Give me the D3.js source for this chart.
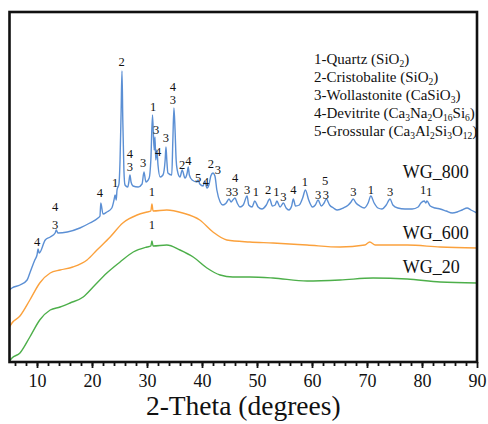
<!DOCTYPE html>
<html>
<head>
<meta charset="utf-8">
<script src="https://cdn.jsdelivr.net/npm/d3@7"></script>
<style>
  body { margin: 0; background: #fff; }
  text { font-family: "Liberation Serif", "Times New Roman", serif; fill: #111; }
</style>
</head>
<body>
<script>
// 2-theta (deg), intensity (a.u.)
const wg20 = [
  [5.0, 1], [5.45, 4], [6.9, 9], [8.7, 25], [10.5, 42], [12.4, 52], [14.2, 55], [16.0, 59],
  [18.4, 65], [20.2, 75], [22.7, 89], [25.1, 100], [27.5, 110], [30.0, 115], [30.7, 116],
  [30.9, 121], [31.1, 116], [33.6, 117], [36.0, 112], [38.4, 105], [40.9, 94], [43.3, 87],
  [45.6, 85], [48.7, 85], [52.9, 84], [59.1, 81], [65.1, 82], [71.1, 84], [77.3, 83],
  [83.3, 80], [90.0, 79]
];

const wg600 = [
  [5.0, 35], [5.45, 39], [6.9, 46], [8.7, 62], [10.5, 79], [12.4, 89], [14.2, 92], [16.5, 95],
  [19.1, 102], [20.9, 112], [23.3, 125], [25.6, 139], [28.2, 147], [30.0, 150], [30.7, 151],
  [30.9, 158], [31.1, 151], [33.6, 152], [36.5, 149], [39.6, 142], [42.0, 130], [44.5, 122],
  [48.7, 120], [52.9, 119], [59.1, 117], [65.1, 115], [69.6, 117], [70.5, 120], [71.5, 117],
  [77.3, 117], [83.3, 115], [90.0, 114]
];

const wg800 = [
  [5.0, 72], [5.45, 74], [6.9, 77], [8.2, 82], [8.7, 89], [9.6, 102], [10.0, 107], [10.2, 113],
  [10.4, 109], [11.5, 122], [12.4, 125], [13.3, 129], [13.5, 132], [13.8, 129], [15.5, 130],
  [17.8, 134], [19.6, 139], [21.1, 144], [21.45, 146], [21.6, 159], [22.0, 148], [22.7, 150],
  [23.6, 154], [24.0, 162], [24.2, 167], [24.4, 162], [24.55, 172], [24.9, 178], [25.1, 202],
  [25.3, 252], [25.45, 291], [25.6, 242], [25.8, 192], [26.0, 177], [26.5, 175], [26.7, 180],
  [26.9, 187], [27.1, 180], [27.45, 176], [28.4, 175], [29.1, 178], [29.45, 190], [29.8, 180],
  [30.4, 184], [30.7, 202], [31.0, 247], [31.3, 212], [31.45, 225], [31.6, 202], [31.8, 212],
  [32.0, 197], [32.4, 185], [32.9, 187], [33.3, 202], [33.45, 215], [33.6, 202], [33.8, 189],
  [34.5, 187], [34.7, 222], [34.9, 254], [35.1, 232], [35.3, 202], [35.5, 192], [36.0, 185],
  [36.4, 192], [36.9, 184], [37.3, 189], [37.5, 195], [37.7, 187], [38.2, 182], [39.1, 180],
  [39.3, 182], [39.6, 178], [40.2, 176], [40.5, 181], [40.9, 174], [41.3, 178], [41.6, 186],
  [42.0, 189], [42.35, 186], [42.7, 172], [43.3, 160], [43.8, 157], [44.4, 159], [44.9, 163],
  [45.3, 160], [45.6, 162], [46.0, 164], [46.4, 159], [46.9, 155], [47.5, 157], [48.2, 166],
  [48.5, 157], [49.1, 155], [49.6, 161], [50.2, 155], [50.9, 153], [51.7, 157], [52.3, 163],
  [52.8, 156], [53.3, 157], [53.6, 161], [54.2, 155], [54.8, 159], [55.3, 154], [55.8, 152],
  [56.3, 156], [56.6, 163], [57.0, 156], [57.7, 157], [58.3, 164], [58.8, 172], [59.4, 162],
  [60.1, 155], [60.6, 157], [61.1, 162], [61.7, 156], [62.2, 159], [62.6, 163], [63.2, 157],
  [63.9, 154], [64.6, 152], [65.7, 154], [66.6, 157], [67.1, 160], [67.5, 163], [68.0, 159],
  [68.7, 156], [69.5, 154], [70.2, 159], [70.7, 166], [71.3, 159], [72.0, 154], [72.7, 153],
  [73.5, 157], [74.2, 163], [74.7, 157], [75.6, 154], [76.9, 153], [78.2, 153], [79.3, 155],
  [79.8, 159], [80.4, 161], [80.7, 159], [80.9, 161], [81.5, 156], [82.4, 154], [83.3, 153],
  [84.4, 151], [85.5, 149], [86.4, 150], [87.3, 152], [88.2, 154], [88.9, 152], [90.0, 149]
];

// phase marks: 2-theta, label height (a.u.), phase number
const marks800 = [
  [10.0, 120, "4"], [13.3, 155, "4"], [13.3, 137, "3"], [21.45, 169, "4"], [24.2, 179, "1"],
  [25.4, 300, "2"], [26.9, 208, "4"], [26.9, 195, "3"], [29.3, 199, "3"], [31.1, 255, "1"],
  [31.65, 232, "3"], [32.0, 210, "4"], [33.45, 224, "3"], [34.7, 275, "4"], [34.7, 262, "3"],
  [36.4, 197, "2"], [37.5, 201, "4"], [39.3, 184, "5"], [40.7, 180, "4"], [41.6, 198, "2"],
  [42.9, 192, "3"], [44.9, 170, "3"], [46.0, 170, "3"], [46.0, 184, "4"], [48.2, 172, "3"],
  [49.8, 170, "1"], [52.0, 172, "2"], [53.5, 170, "1"], [54.8, 165, "3"], [56.6, 172, "4"],
  [58.7, 180, "1"], [61.1, 167, "3"], [62.5, 167, "3"], [62.4, 181, "5"], [67.5, 170, "3"],
  [70.7, 172, "1"], [74.2, 170, "3"], [80.2, 172, "1"], [81.3, 170, "1"]
];
const marks600 = [[30.9, 170, "1"]];
const marks20 = [[30.9, 137, "1"]];

const seriesNames = ["WG_800", "WG_600", "WG_20"];
const seriesColors = ["#5b8fd4", "#fba13c", "#4daf4a"];
const seriesLabelPos = [[76.5, 190], [76.5, 129], [76.5, 95]];

const xTicks = [10, 20, 30, 40, 50, 60, 70, 80, 90];
const xMinorTicks = d3.range(6, 90, 2);

const legendLines = [
  [["1-Quartz (SiO", 0], ["2", 1], [")", 0]],
  [["2-Cristobalite (SiO", 0], ["2", 1], [")", 0]],
  [["3-Wollastonite (CaSiO", 0], ["3", 1], [")", 0]],
  [["4-Devitrite (Ca", 0], ["3", 1], ["Na", 0], ["2", 1], ["O", 0], ["16", 1], ["Si", 0], ["6", 1], [")", 0]],
  [["5-Grossular (Ca", 0], ["3", 1], ["Al", 0], ["2", 1], ["Si", 0], ["3", 1], ["O", 0], ["12", 1], [")", 0]]
];

const width = 488, height = 424;
const svg = d3.select("body").append("svg")
    .attr("width", width)
    .attr("height", height);

const x = d3.scaleLinear().domain([5, 90]).range([9.5, 477]);
const y = d3.scaleLinear().domain([0, 350]).range([362, 12]);

const line = d3.line()
    .x(d => x(d[0]))
    .y(d => y(d[1]))
    .curve(d3.curveMonotoneX);

const allSeries = [wg800, wg600, wg20];
const allMarks = [marks800, marks600, marks20];

allSeries.forEach((s, i) => {
    svg.append("path")
        .datum(s)
        .attr("fill", "none")
        .attr("stroke", seriesColors[i])
        .attr("stroke-width", 1.4)
        .attr("stroke-linejoin", "round")
        .attr("d", line);
});

allMarks.forEach(m => {
    svg.append("g").selectAll("text")
        .data(m)
        .enter().append("text")
        .attr("x", d => x(d[0]))
        .attr("y", d => y(d[1]))
        .attr("dy", "0.35em")
        .attr("text-anchor", "middle")
        .attr("font-size", 12.5)
        .text(d => d[2]);
});

svg.append("g").selectAll("text")
    .data(seriesNames)
    .enter().append("text")
    .attr("x", (d, i) => x(seriesLabelPos[i][0]))
    .attr("y", (d, i) => y(seriesLabelPos[i][1]))
    .attr("dy", "0.35em")
    .attr("font-size", 18)
    .text(d => d);

// legend
const legend = svg.append("g").attr("transform", "translate(314,64)");
legendLines.forEach((segs, i) => {
    const t = legend.append("text")
        .attr("y", i * 18)
        .attr("font-size", 15);
    let shift = 0;
    segs.forEach(s => {
        const target = s[1] ? 3 : 0;
        t.append("tspan")
            .attr("dy", target - shift)
            .attr("font-size", s[1] ? 9.5 : 15)
            .text(s[0]);
        shift = target;
    });
});

// axes
svg.append("g")
    .attr("transform", "translate(0," + y(0) + ")")
    .call(d3.axisBottom(x).tickValues(xMinorTicks).tickSize(4).tickFormat(""))
    .call(g => g.select(".domain").remove())
    .call(g => g.selectAll("line").attr("stroke", "#111").attr("stroke-width", 1.8));

svg.append("g")
    .attr("transform", "translate(0," + y(0) + ")")
    .call(d3.axisBottom(x).tickValues(xTicks).tickSize(6).tickPadding(6))
    .call(g => g.select(".domain").remove())
    .call(g => g.selectAll("line").attr("stroke", "#111").attr("stroke-width", 1.8))
    .call(g => g.selectAll("text")
        .attr("font-size", 18)
        .attr("font-family", "'Liberation Serif', 'Times New Roman', serif")
        .attr("fill", "#111"));

// frame
svg.append("rect")
    .attr("x", x(5))
    .attr("y", y(350))
    .attr("width", x(90) - x(5))
    .attr("height", y(0) - y(350))
    .attr("fill", "none")
    .attr("stroke", "#111")
    .attr("stroke-width", 2.6);

svg.append("text")
    .attr("x", (x(5) + x(90)) / 2)
    .attr("y", 415)
    .attr("text-anchor", "middle")
    .attr("font-size", 27.5)
    .text("2-Theta (degrees)");
</script>
</body>
</html>
